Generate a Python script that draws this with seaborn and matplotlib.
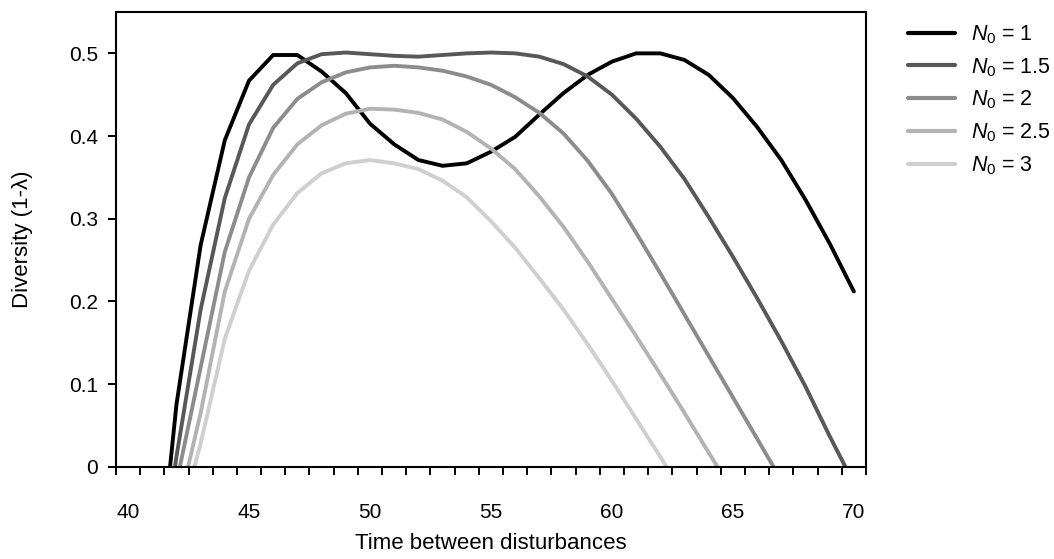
import matplotlib
matplotlib.use('Agg')
import matplotlib.pyplot as plt
import numpy as np
import pandas as pd
import seaborn as sns

nan = np.nan
time = list(range(41, 71))
n0_1 = [-0.21, 0.075, 0.268, 0.395, 0.467, 0.498, 0.498, 0.478, 0.452, 0.415,
        0.39, 0.371, 0.364, 0.367, 0.381, 0.399, 0.426, 0.452, 0.474, 0.490,
        0.500, 0.500, 0.492, 0.474, 0.446, 0.411, 0.371, 0.323, 0.270, 0.212]
n0_15 = [-0.19, 0.012, 0.19, 0.325, 0.414, 0.462, 0.488, 0.499, 0.501, 0.499,
         0.497, 0.496, 0.498, 0.500, 0.501, 0.500, 0.496, 0.487, 0.472, 0.450,
         0.421, 0.387, 0.348, 0.302, 0.254, 0.204, 0.152, 0.097, 0.037, -0.02]
n0_2 = [nan, -0.02, 0.12, 0.26, 0.35, 0.41, 0.445, 0.465, 0.477, 0.483,
        0.485, 0.483, 0.479, 0.472, 0.462, 0.447, 0.428, 0.403, 0.37, 0.33,
        0.283, 0.234, 0.184, 0.134, 0.084, 0.034, -0.016, nan, nan, nan]
n0_25 = [nan, -0.06, 0.065, 0.212, 0.30, 0.353, 0.39, 0.413, 0.427, 0.433,
         0.432, 0.428, 0.42, 0.405, 0.385, 0.36, 0.327, 0.29, 0.248, 0.203,
         0.158, 0.112, 0.065, 0.017, -0.03, nan, nan, nan, nan, nan]
n0_3 = [nan, -0.08, 0.028, 0.155, 0.237, 0.293, 0.331, 0.355, 0.367, 0.371,
        0.367, 0.36, 0.346, 0.326, 0.297, 0.265, 0.228, 0.19, 0.148, 0.104,
        0.058, 0.012, -0.035, nan, nan, nan, nan, nan, nan, nan]
labels = ['1', '1.5', '2', '2.5', '3']
colors = ['#000000', '#585858', '#8c8c8c', '#b3b3b3', '#cfcfcf']

series = [n0_1, n0_15, n0_2, n0_25, n0_3]
names = [r'$\mathit{N}_0$ = ' + l for l in labels]
df = pd.concat([pd.DataFrame({'t': time, 'div': s, 'N0': n})
                for s, n in zip(series, names)], ignore_index=True)

sns.set_style('white')
plt.rcParams['font.family'] = ['Liberation Sans', 'DejaVu Sans']
plt.rcParams['mathtext.fontset'] = 'custom'
plt.rcParams['mathtext.rm'] = 'Liberation Sans'
plt.rcParams['mathtext.it'] = 'Liberation Sans:italic'
plt.rcParams['text.color'] = 'black'
plt.rcParams['axes.labelcolor'] = 'black'
plt.rcParams['xtick.color'] = 'black'
plt.rcParams['ytick.color'] = 'black'

fig = plt.figure(figsize=(10.54, 5.59), dpi=100)
ax = fig.add_axes([0.110, 0.165, 0.7116, 0.8135])
sns.lineplot(data=df, x='t', y='div', hue='N0', hue_order=names,
             palette=dict(zip(names, colors)), linewidth=2.8, ax=ax,
             solid_joinstyle='round', solid_capstyle='round')

ax.set_xlim(39.5, 70.5)
ax.set_ylim(0, 0.55)
# tick marks sit between categories, labels on the category centres
ax.set_xticks(np.arange(39.5, 71, 1))
ax.set_xticklabels([])
ax.set_xticks(range(40, 71, 5), minor=True)
ax.set_xticklabels([str(v) for v in range(40, 71, 5)], minor=True)
ax.tick_params(axis='x', which='major', bottom=True, direction='out', length=6, width=1.4)
ax.tick_params(axis='x', which='minor', bottom=True, length=0, pad=26, labelsize=15)
ax.set_yticks([0, 0.1, 0.2, 0.3, 0.4, 0.5])
ax.set_yticklabels(['0', '0.1', '0.2', '0.3', '0.4', '0.5'])
ax.tick_params(axis='y', left=True, direction='out', length=6, width=1.4, labelsize=15, pad=7)
for sp in ax.spines.values():
    sp.set_color('black')
    sp.set_linewidth(1.5)

ax.set_xlabel('Time between disturbances', fontsize=16, labelpad=8)
ax.set_ylabel('Diversity (1-λ)', fontsize=16, labelpad=26)

leg = ax.legend(loc='upper left', bbox_to_anchor=(1.03, 1.018), frameon=False,
                fontsize=15.5, handlelength=2.2, handletextpad=0.75, labelspacing=0.47)
for line in leg.get_lines():
    line.set_linewidth(3)

fig.savefig('out.png', dpi=100)
